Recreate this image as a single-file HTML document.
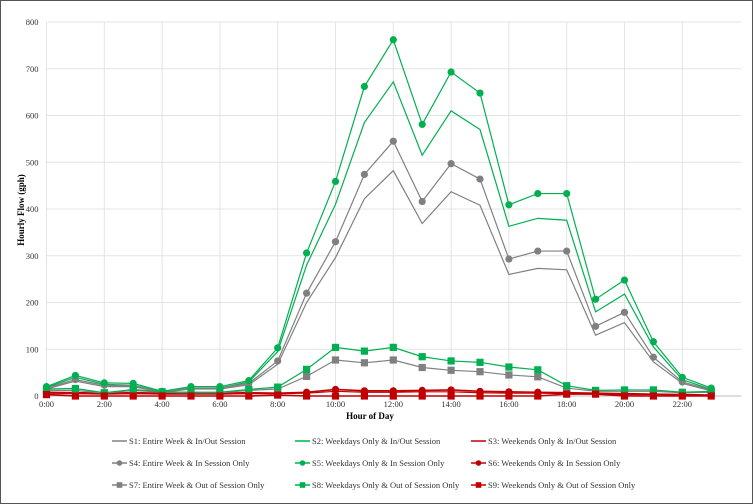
<!DOCTYPE html>
<html><head><meta charset="utf-8"><style>
body{margin:0;background:#fff;}
svg{display:block;}
svg text{font-family:"Liberation Serif","DejaVu Serif",serif;}
</style></head><body>
<svg id="chart" width="753" height="504" viewBox="0 0 753 504" font-family="Liberation Serif, serif">
<rect x="0.5" y="0.5" width="752" height="503" fill="#fff" stroke="#555" stroke-width="1"/>
<g id="grid"></g>
<g id="axes"></g>
<g id="series"></g>
<text x="24" y="210" transform="rotate(-90 24 210)" text-anchor="middle" font-size="9" font-weight="bold" font-family="Liberation Serif, serif">Hourly Flow (gph)</text>
<text x="370" y="419" text-anchor="middle" font-size="9" font-weight="bold" font-family="Liberation Serif, serif">Hour of Day</text>
<g id="legend"></g>
</svg>
<script>
const hours = [0,1,2,3,4,5,6,7,8,9,10,11,12,13,14,15,16,17,18,19,20,21,22,23];
const yTicks = [0,100,200,300,400,500,600,700,800];
const xTicks = [0,2,4,6,8,10,12,14,16,18,20,22];
const s1 = [15,32,20,20,8,15,15,24,68,200,296,422,482,369,437,408,260,273,270,130,157,73,27,11];
const s2 = [18,40,25,23,9,17,17,30,95,280,410,585,672,515,610,570,363,380,376,180,218,105,35,14];
const s3 = [5,5,4,5,4,4,4,5,5,6,10,8,8,9,9,7,6,6,5,4,3,3,2,1];
const s4 = [17,35,23,22,9,17,17,27,75,220,330,474,545,416,497,464,293,310,310,149,179,83,30,13];
const s5 = [20,44,28,27,10,20,20,33,103,306,459,662,762,581,693,648,409,433,433,207,248,116,40,17];
const s6 = [8,7,6,7,6,6,6,7,6,8,14,11,11,12,13,10,9,8,7,6,5,4,3,2];
const s7 = [12,12,6,12,8,7,7,12,15,42,77,71,77,61,55,52,45,41,17,10,10,10,7,8];
const s8 = [15,16,7,14,9,8,8,14,19,57,104,96,104,84,75,72,62,56,22,12,13,13,8,10];
const s9 = [3,0,0,0,0,0,0,0,2,0,0,0,0,0,0,0,0,0,4,4,0,0,0,0];
const labels = ["S1: Entire Week & In/Out Session","S2: Weekdays Only & In/Out Session","S3: Weekends Only & In/Out Session","S4: Entire Week & In Session Only","S5: Weekdays Only & In Session Only","S6: Weekends Only & In Session Only","S7: Entire Week & Out of Session Only","S8: Weekdays Only & Out of Session Only","S9: Weekends Only & Out of Session Only"];

const NS="http://www.w3.org/2000/svg";
const X0=46.5, XW=28.9, Y0=396, YH=374/800;
const FF="Liberation Serif, serif";
function xs(h){return X0+h*XW;}
function ys(v){return Y0-v*YH;}
function mk(tag,attrs,parent){const e=document.createElementNS(NS,tag);for(const k in attrs)e.setAttribute(k,attrs[k]);parent.appendChild(e);return e;}
const grid=document.getElementById('grid'),axes=document.getElementById('axes'),ser=document.getElementById('series'),leg=document.getElementById('legend');
yTicks.forEach(v=>{
  const l=mk('line',{x1:X0,x2:741,y1:ys(v),y2:ys(v),stroke:v===0?'#bbb':'#e3e3e3','stroke-width':1},grid);
  
  
  const t=mk('text',{x:X0-8,y:ys(v)+3,'text-anchor':'end','font-size':8.5,fill:'#333','font-family':FF},axes);
  t.textContent=v;
  
  
});
xTicks.forEach(h=>{
  const l=mk('line',{x1:xs(h),x2:xs(h),y1:ys(800),y2:Y0,stroke:'#e3e3e3','stroke-width':1},grid);
  
  
  const t=mk('text',{x:xs(h),y:Y0+11,'text-anchor':'middle','font-size':8.5,fill:'#333','font-family':FF},axes);
  t.textContent=h+':00';
  
  
});
const GRAY='#808080',GREEN='#00b050',RED='#c00000';
const defs=[
 {d:s1,c:GRAY,m:null},{d:s2,c:GREEN,m:null},{d:s3,c:RED,m:null},
 {d:s4,c:GRAY,m:'c'},{d:s5,c:GREEN,m:'c'},{d:s6,c:RED,m:'c'},
 {d:s7,c:GRAY,m:'s'},{d:s8,c:GREEN,m:'s'},{d:s9,c:RED,m:'s'}];
function marker(m,x,y,c,parent,r){
  let e;
  if(m==='c'){e=mk('circle',{cx:x,cy:y,r:r,fill:c},parent);}
  else{e=mk('rect',{x:x-r,y:y-r,width:2*r,height:2*r,fill:c},parent);}
  return e;
}
defs.forEach((s,i)=>{
  const g=mk('g',{},ser);
  
  
  const pts=s.d.map((v,j)=>xs(hours[j])+','+ys(v)).join(' ');
  const pl=mk('polyline',{points:pts,fill:'none',stroke:s.c,'stroke-width':(s.c===RED&&s.m)?1.6:1.2},g);
  
  
  if(s.m){s.d.forEach((v,j)=>{
    const p=marker(s.m,xs(hours[j]),ys(v),s.c,g,3.6);
    
    
  });}
  const col=i%3,row=Math.floor(i/3);
  const lx=[112,295,471][col], ly=441+row*22;
  const lg=mk('g',{},leg);
  
  
  mk('line',{x1:lx,x2:lx+15,y1:ly,y2:ly,stroke:s.c,'stroke-width':1.5},lg);
  if(s.m)marker(s.m,lx+7.5,ly,s.c,lg,2.8);
  const t=mk('text',{x:lx+17,y:ly+3,'font-size':8.5,fill:'#333','font-family':FF},lg);
  t.textContent=labels[i];
});
</script>
</body></html>
